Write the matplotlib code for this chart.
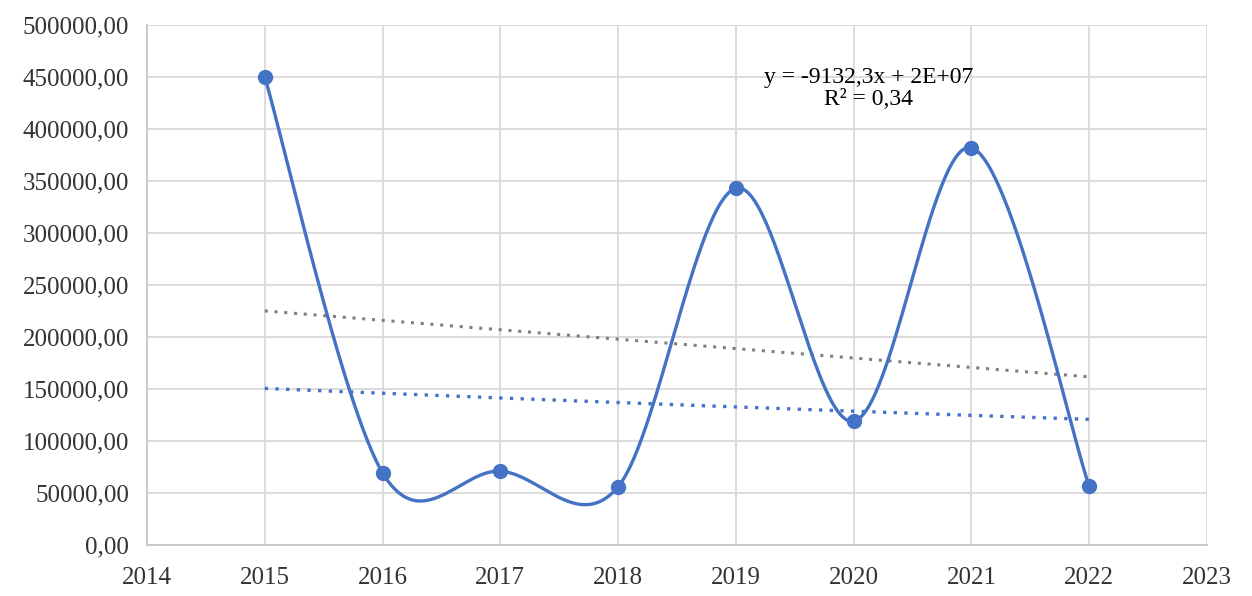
"""Yearly values 2015-2022 with a smoothed curve plus linear and exponential trendlines."""

import matplotlib
matplotlib.use("Agg")
import matplotlib.pyplot as plt
import numpy as np
from matplotlib.ticker import FuncFormatter

years = [2015, 2016, 2017, 2018, 2019, 2020, 2021, 2022]
values = [450000, 69500, 71000, 56000, 343000, 119000, 382000, 56500]

eq_text = "y = -9132,3x + 2E+07"
r2_text = "R² = 0,34"

LINE_BLUE = "#4472C4"
TREND_GREY = "#7f7f7f"


def smooth_curve(x, y, n=60):
    """Excel-style smoothed line: cubic Bezier pieces with Catmull-Rom tangents."""
    x = np.asarray(x, float)
    y = np.asarray(y, float)
    px, py = [], []
    m = len(x)
    for i in range(m - 1):
        i0, i3 = max(i - 1, 0), min(i + 2, m - 1)
        c1x = x[i] + (x[i + 1] - x[i0]) / 6
        c1y = y[i] + (y[i + 1] - y[i0]) / 6
        c2x = x[i + 1] - (x[i3] - x[i]) / 6
        c2y = y[i + 1] - (y[i3] - y[i]) / 6
        t = np.linspace(0, 1, n)
        a, b, c, d = (1 - t) ** 3, 3 * t * (1 - t) ** 2, 3 * t ** 2 * (1 - t), t ** 3
        px.append(a * x[i] + b * c1x + c * c2x + d * x[i + 1])
        py.append(a * y[i] + b * c1y + c * c2y + d * y[i + 1])
    return np.concatenate(px), np.concatenate(py)


plt.rcParams.update({
    "font.family": ["Liberation Serif", "DejaVu Serif"],
    "font.size": 18,
})

fig = plt.figure(figsize=(12.52, 5.96), dpi=100)
ax = fig.add_axes([0.1174, 0.0856, 0.8466, 0.8724])

x = np.array(years, float)
y = np.array(values, float)

# linear trend (least squares) and exponential trend (fit on log values)
lin = np.polyfit(x, y, 1)
expo = np.polyfit(x, np.log(y), 1)
xt = np.linspace(x[0], x[-1], 100)

ax.plot(xt, np.polyval(lin, xt), linestyle=(0, (1, 2.2)), color=TREND_GREY,
        linewidth=2.2, zorder=2)
ax.plot(xt, np.exp(np.polyval(expo, xt)), linestyle=(0, (1, 2.2)), color=LINE_BLUE,
        linewidth=2.4, zorder=2)

sx, sy = smooth_curve(x, y)
ax.plot(sx, sy, color=LINE_BLUE, linewidth=2.4, zorder=3)
ax.plot(x, y, "o", color=LINE_BLUE, markersize=10, zorder=4)

ax.text(2020.13, 450000, eq_text, ha="center", va="center", fontsize=17)
ax.text(2020.13, 428000, r2_text, ha="center", va="center", fontsize=17)

ax.set_xlim(2014, 2023)
ax.set_ylim(0, 500000)
ax.set_xticks(np.arange(2014, 2024))
ax.set_yticks(np.arange(0, 500001, 50000))
ax.yaxis.set_major_formatter(FuncFormatter(lambda v, _: f"{v:.2f}".replace(".", ",")))

ax.grid(True, color="#d9d9d9", linewidth=1.3)
ax.set_axisbelow(True)
for side in ("top", "right"):
    ax.spines[side].set_visible(False)
for side in ("left", "bottom"):
    ax.spines[side].set_color("#c8c8c8")
    ax.spines[side].set_linewidth(1.3)
ax.tick_params(length=0, colors="#333333", labelsize=18)
ax.tick_params(axis="x", pad=16)
ax.tick_params(axis="y", pad=13)

fig.savefig("out.png", dpi=100)
